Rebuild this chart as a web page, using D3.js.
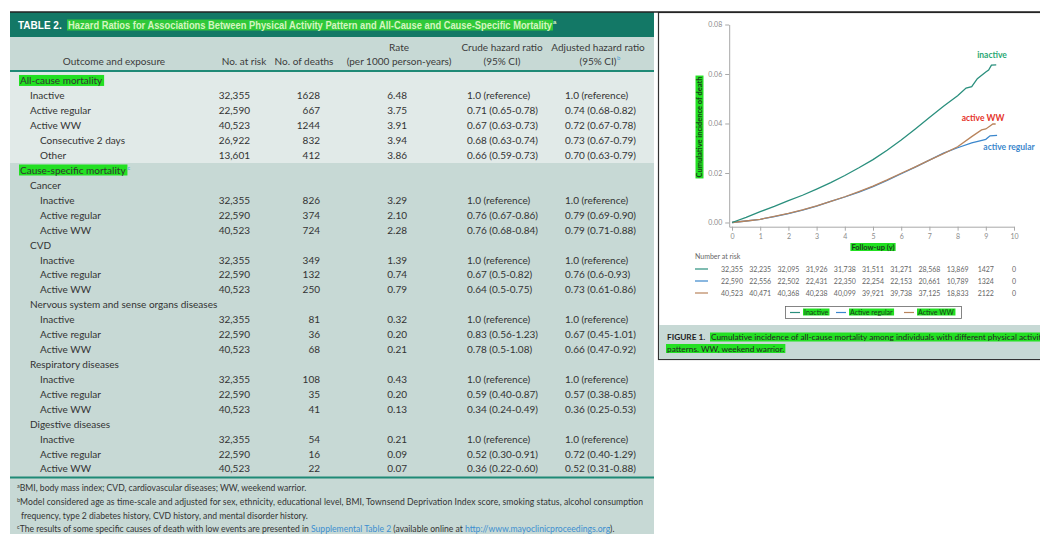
<!DOCTYPE html>
<html lang="en">
<head>
<meta charset="UTF-8">
<title>Physical Activity Pattern and Mortality</title>
<script src="https://cdnjs.cloudflare.com/ajax/libs/d3/7.9.0/d3.min.js"></script>
<style>
  body { margin: 0; background: #fff; }
  svg text { font-family: Lato, "Open Sans", sans-serif; }
</style>
</head>
<body>
<svg width="1040" height="534"></svg>
<script>
// ---- Table 2 data ----
let rowLabels = ["All-cause mortality", "Inactive", "Active regular", "Active WW", "Consecutive 2 days", "Other",
  "Cause-specific mortality", "Cancer", "Inactive", "Active regular", "Active WW",
  "CVD", "Inactive", "Active regular", "Active WW",
  "Nervous system and sense organs diseases", "Inactive", "Active regular", "Active WW",
  "Respiratory diseases", "Inactive", "Active regular", "Active WW",
  "Digestive diseases", "Inactive", "Active regular", "Active WW"];
let rowDepth = [0, 1, 1, 1, 2, 2, 0, 1, 2, 2, 2, 1, 2, 2, 2, 1, 2, 2, 2, 1, 2, 2, 2, 1, 2, 2, 2];
let atRisk = [null, "32,355", "22,590", "40,523", "26,922", "13,601", null, null, "32,355", "22,590", "40,523",
  null, "32,355", "22,590", "40,523", null, "32,355", "22,590", "40,523",
  null, "32,355", "22,590", "40,523", null, "32,355", "22,590", "40,523"];
let deaths = [null, 1628, 667, 1244, 832, 412, null, null, 826, 374, 724, null, 349, 132, 250,
  null, 81, 36, 68, null, 108, 35, 41, null, 54, 16, 22];
let rates = [null, "6.48", "3.75", "3.91", "3.94", "3.86", null, null, "3.29", "2.10", "2.28",
  null, "1.39", "0.74", "0.79", null, "0.32", "0.20", "0.21", null, "0.43", "0.20", "0.13",
  null, "0.21", "0.09", "0.07"];
let crudeHR = [null, "1.0 (reference)", "0.71 (0.65-0.78)", "0.67 (0.63-0.73)", "0.68 (0.63-0.74)", "0.66 (0.59-0.73)",
  null, null, "1.0 (reference)", "0.76 (0.67-0.86)", "0.76 (0.68-0.84)",
  null, "1.0 (reference)", "0.67 (0.5-0.82)", "0.64 (0.5-0.75)",
  null, "1.0 (reference)", "0.83 (0.56-1.23)", "0.78 (0.5-1.08)",
  null, "1.0 (reference)", "0.59 (0.40-0.87)", "0.34 (0.24-0.49)",
  null, "1.0 (reference)", "0.52 (0.30-0.91)", "0.36 (0.22-0.60)"];
let adjustedHR = [null, "1.0 (reference)", "0.74 (0.68-0.82)", "0.72 (0.67-0.78)", "0.73 (0.67-0.79)", "0.70 (0.63-0.79)",
  null, null, "1.0 (reference)", "0.79 (0.69-0.90)", "0.79 (0.71-0.88)",
  null, "1.0 (reference)", "0.76 (0.6-0.93)", "0.73 (0.61-0.86)",
  null, "1.0 (reference)", "0.67 (0.45-1.01)", "0.66 (0.47-0.92)",
  null, "1.0 (reference)", "0.57 (0.38-0.85)", "0.36 (0.25-0.53)",
  null, "1.0 (reference)", "0.72 (0.40-1.29)", "0.52 (0.31-0.88)"];

// ---- Figure 1 data (cumulative incidence) ----
let inactiveYears = [0, 0.5, 1, 1.5, 2, 2.5, 3, 3.5, 4, 4.5, 5, 5.5, 6, 6.5, 7, 7.5, 8, 8.3, 8.5, 8.7, 9.0, 9.1, 9.2, 9.37];
let inactiveInc = [0, 0.0021, 0.0044, 0.0065, 0.0088, 0.011, 0.0135, 0.0161, 0.019, 0.0221, 0.0254, 0.0292, 0.0333, 0.0378,
  0.0424, 0.0470, 0.0512, 0.0543, 0.0549, 0.0581, 0.0608, 0.0616, 0.0636, 0.0637];
let regularYears = [0, 0.5, 1, 1.5, 2, 2.5, 3, 3.5, 4, 4.5, 5, 5.5, 6, 6.5, 7, 7.5, 8, 8.5, 8.9, 9.0, 9.15, 9.4];
let regularInc = [0, 0.0006, 0.0013, 0.0024, 0.0036, 0.005, 0.0066, 0.0085, 0.0103, 0.0123, 0.0145, 0.017, 0.0197,
  0.0224, 0.0252, 0.028, 0.0302, 0.0322, 0.0333, 0.0336, 0.035, 0.0352];
let wwYears = [0, 0.5, 1, 1.5, 2, 2.5, 3, 3.5, 4, 4.5, 5, 5.5, 6, 6.5, 7, 7.5, 8, 8.5, 8.85, 9.0, 9.15, 9.25, 9.35];
let wwInc = [0, 0.0006, 0.0013, 0.0025, 0.0037, 0.0051, 0.0067, 0.0085, 0.0104, 0.0125, 0.0147, 0.0172, 0.0199,
  0.0225, 0.0252, 0.0278, 0.0306, 0.0347, 0.0374, 0.0378, 0.039, 0.0398, 0.0398];

let riskYears = [0, 1, 2, 3, 4, 5, 6, 7, 8, 9, 10];
let riskInactive = ["32,355", "32,235", "32,095", "31,926", "31,738", "31,511", "31,271", "28,568", "13,869", "1427", "0"];
let riskRegular = ["22,590", "22,556", "22,502", "22,431", "22,350", "22,254", "22,153", "20,661", "10,789", "1324", "0"];
let riskWW = ["40,523", "40,471", "40,368", "40,238", "40,099", "39,921", "39,738", "37,125", "18,833", "2122", "0"];

let seriesNames = ["Inactive", "Active regular", "Active WW"];
let seriesColors = ["#2a8f7d", "#3b87cc", "#b9845c"];

let svg = d3.select("svg");
let HL = "#22e022";

// puts a green marker box behind a text element
function highlight(textSel, color, w) {
    let b = textSel.node().getBBox();
    d3.select(textSel.node().parentNode).insert("rect", () => textSel.node())
        .attr("x", b.x - 1).attr("y", b.y + 0.5)
        .attr("width", (w || b.width) + 2).attr("height", b.height - 1)
        .attr("fill", color || HL);
}

// ================= TABLE =================
let T = svg.append("g");
T.append("rect").attr("x", 10).attr("y", 12).attr("width", 644).attr("height", 25).attr("fill", "#137866");
T.append("rect").attr("x", 10).attr("y", 37).attr("width", 644).attr("height", 34).attr("fill", "#c7d9d5");
T.append("rect").attr("x", 10).attr("y", 72).attr("width", 644).attr("height", 91).attr("fill", "#e1eae8");
T.append("rect").attr("x", 10).attr("y", 163).attr("width", 644).attr("height", 371).attr("fill", "#c7d9d5");
T.append("rect").attr("x", 10).attr("y", 70).attr("width", 644).attr("height", 2).attr("fill", "#1f8a76");
T.append("rect").attr("x", 10).attr("y", 476.5).attr("width", 644).attr("height", 2).attr("fill", "#1f8a76");

// title band
T.append("text").attr("x", 18).attr("y", 29).attr("fill", "#fff")
    .attr("font-size", 10).attr("font-weight", "bold")
    .style("font-family", "'Liberation Sans', Arial, sans-serif").text("TABLE 2.");
let title = T.append("text").attr("x", 68).attr("y", 29).attr("fill", "#d4f6c0")
    .attr("font-size", 10).attr("font-weight", "bold")
    .style("font-family", "'Liberation Sans', Arial, sans-serif");
title.append("tspan").attr("textLength", 484).attr("lengthAdjust", "spacingAndGlyphs")
    .text("Hazard Ratios for Associations Between Physical Activity Pattern and All-Cause and Cause-Specific Mortality");
title.append("tspan").attr("font-size", 6).attr("dy", -5).attr("dx", 1).text("a");
highlight(title, "#2fc83a", 484);

// header
let hdr = "#3b3b3b";
let header = [
    { x: 114, lines: ["", "Outcome and exposure"] },
    { x: 244, lines: ["", "No. at risk"] },
    { x: 304, lines: ["", "No. of deaths"] },
    { x: 399, lines: ["Rate", "(per 1000 person-years)"] },
    { x: 502, lines: ["Crude hazard ratio", "(95% CI)"] },
    { x: 598, lines: ["Adjusted hazard ratio", "(95% CI)"] }
];
header.forEach(h => {
    h.lines.forEach((l, i) => {
        if (!l) return;
        T.append("text").attr("x", h.x).attr("y", 50.5 + i * 14.5).attr("text-anchor", "middle")
            .attr("font-size", 10).attr("fill", hdr).text(l);
    });
});
T.append("text").attr("x", 617).attr("y", 60).attr("font-size", 6).attr("fill", "#4aa0d8").text("b");

// body rows
let rowBand = d3.scaleBand().domain(d3.range(rowLabels.length)).range([73.5, 476.4]);
let cy = i => rowBand(i) + rowBand.bandwidth() / 2;
let ink = "#333";

rowLabels.forEach((lab, i) => {
    let y = cy(i) + 3.5;
    let t = T.append("text").attr("x", 20 + rowDepth[i] * 10).attr("y", y)
        .attr("font-size", 10).attr("fill", ink).text(lab);
    if (rowDepth[i] === 0) {
        highlight(t);
        if (lab === "Cause-specific mortality") {
            let b = t.node().getBBox();
            T.append("text").attr("x", b.x + b.width + 1).attr("y", y - 4).attr("font-size", 5.5).attr("fill", "#4aa0d8").text("c");
        }
    }
    if (atRisk[i] != null) {
        T.append("text").attr("x", 250).attr("y", y).attr("text-anchor", "end").attr("font-size", 10).attr("fill", ink).text(atRisk[i]);
        T.append("text").attr("x", 320).attr("y", y).attr("text-anchor", "end").attr("font-size", 10).attr("fill", ink).text(deaths[i]);
        T.append("text").attr("x", 407).attr("y", y).attr("text-anchor", "end").attr("font-size", 10).attr("fill", ink).text(rates[i]);
        T.append("text").attr("x", 467).attr("y", y).attr("font-size", 10).attr("fill", ink).text(crudeHR[i]);
        T.append("text").attr("x", 565).attr("y", y).attr("font-size", 10).attr("fill", ink).text(adjustedHR[i]);
    }
});

// footnotes
let fn = T.append("g").attr("font-size", 8.6).attr("fill", "#333");
function sup(sel, ch) { sel.append("tspan").attr("font-size", 5.5).attr("dy", -3).text(ch); }
let f1 = fn.append("text").attr("x", 17).attr("y", 490.5);
sup(f1, "a");
f1.append("tspan").attr("dy", 3).text("BMI, body mass index; CVD, cardiovascular diseases; WW, weekend warrior.");
let f2 = fn.append("text").attr("x", 17).attr("y", 504.5);
sup(f2, "b");
f2.append("tspan").attr("dy", 3).attr("textLength", 623).attr("lengthAdjust", "spacing")
    .text("Model considered age as time-scale and adjusted for sex, ethnicity, educational level, BMI, Townsend Deprivation Index score, smoking status, alcohol consumption");
fn.append("text").attr("x", 21).attr("y", 518.5)
    .text("frequency, type 2 diabetes history, CVD history, and mental disorder history.");
let f3 = fn.append("text").attr("x", 17).attr("y", 532);
sup(f3, "c");
f3.append("tspan").attr("dy", 3).text("The results of some specific causes of death with low events are presented in ");
f3.append("tspan").attr("fill", "#3d8fd0").text("Supplemental Table 2");
f3.append("tspan").text(" (available online at ");
f3.append("tspan").attr("fill", "#3d8fd0").text("http://www.mayoclinicproceedings.org");
f3.append("tspan").text(").");

// ================= FIGURE =================
let F = svg.append("g");
F.append("rect").attr("x", 658.5).attr("y", 12.5).attr("width", 400).attr("height", 347)
    .attr("fill", "#fff").attr("stroke", "#333").attr("stroke-width", 1.2);
F.append("rect").attr("x", 659).attr("y", 325).attr("width", 381).attr("height", 34).attr("fill", "#c7d9d5");
svg.append("line").attr("x1", 10).attr("x2", 1040).attr("y1", 12).attr("y2", 12).attr("stroke", "#222").attr("stroke-width", 1.5);

let x = d3.scaleLinear().domain([-0.1, 10]).range([729.2, 1014]);
let y = d3.scaleLinear().domain([-0.0017, 0.08]).range([226.7, 24.5]);

let yAxis = F.append("g").attr("transform", "translate(729.2,0)")
    .call(d3.axisLeft(y).tickValues([0, 0.02, 0.04, 0.06, 0.08]).tickFormat(d3.format(".2f")).tickSize(4).tickSizeOuter(0));
let xAxis = F.append("g").attr("transform", "translate(0,226.7)")
    .call(d3.axisBottom(x).tickValues(d3.range(0, 11)).tickSize(4).tickSizeOuter(0).tickPadding(3));
[xAxis, yAxis].forEach(a => {
    a.selectAll("path, line").attr("stroke", "#a8a8a8");
    a.selectAll("text").attr("fill", "#8a8a8a").attr("font-size", 7).style("font-family", "Lato, sans-serif");
});

// y label
let yl = F.append("g").attr("transform", "translate(702,127) rotate(-90)");
let ylt = yl.append("text").attr("text-anchor", "middle").attr("font-size", 7.5).attr("font-weight", "bold")
    .attr("fill", "#1c3a1c").text("Cumulative incidence of death");
highlight(ylt);
let xlt = F.append("text").attr("x", 873).attr("y", 249.5).attr("text-anchor", "middle").attr("font-size", 7.5)
    .attr("font-weight", "bold").attr("fill", "#1c3a1c").text("Follow-up (y)");
highlight(xlt);

// curves
let line = d3.line().x(d => x(d[0])).y(d => y(d[1])).curve(d3.curveLinear);
let curves = [
    d3.zip(regularYears, regularInc),
    d3.zip(wwYears, wwInc),
    d3.zip(inactiveYears, inactiveInc)
];
let curveColors = [seriesColors[1], seriesColors[2], seriesColors[0]];
curves.forEach((c, i) => {
    F.append("path").attr("d", line(c)).attr("fill", "none").attr("stroke", curveColors[i]).attr("stroke-width", 1.3);
});

// curve labels
let endLabels = [
    { text: "inactive", color: "#2aa874", x: 992, y: 58 },
    { text: "active WW", color: "#e5332a", x: 983, y: 121 },
    { text: "active regular", color: "#3b87cc", x: 1009, y: 150 }
];
endLabels.forEach(l => {
    F.append("text").attr("x", l.x).attr("y", l.y).attr("text-anchor", "middle").attr("font-size", 8.5)
        .attr("font-weight", "bold").attr("fill", l.color).text(l.text);
});

// number at risk
F.append("text").attr("x", 695).attr("y", 259).attr("font-size", 7).attr("fill", "#666").text("Number at risk");
[riskInactive, riskRegular, riskWW].forEach((row, r) => {
    let ry = 269 + r * 12;
    F.append("line").attr("x1", 695).attr("x2", 708).attr("y1", ry).attr("y2", ry)
        .attr("stroke", seriesColors[r]).attr("stroke-width", 1.2);
    row.forEach((v, k) => {
        F.append("text").attr("x", x(riskYears[k])).attr("y", ry + 2.5).attr("text-anchor", "middle")
            .attr("font-size", 7).attr("fill", "#666").text(v);
    });
});

// legend
F.append("rect").attr("x", 785.5).attr("y", 306.5).attr("width", 176).attr("height", 12)
    .attr("fill", "#fff").attr("stroke", "#666").attr("stroke-width", 0.8);
let legX = [790, 836, 904];
seriesNames.forEach((n, i) => {
    F.append("line").attr("x1", legX[i]).attr("x2", legX[i] + 10).attr("y1", 312.5).attr("y2", 312.5)
        .attr("stroke", seriesColors[i]).attr("stroke-width", 1.2);
    let t = F.append("text").attr("x", legX[i] + 14).attr("y", 315).attr("font-size", 7).attr("fill", "#1c3a1c").text(n);
    highlight(t);
});

// caption (runs off the right edge, as in the original crop)
let cap = F.append("g").attr("font-size", 8.3).attr("fill", "#222");
cap.append("text").attr("x", 667).attr("y", 340).attr("font-weight", "bold").text("FIGURE 1.");
let c1 = cap.append("text").attr("x", 711).attr("y", 340)
    .text("Cumulative incidence of all-cause mortality among individuals with different physical activity");
highlight(c1);
let c2 = cap.append("text").attr("x", 667).attr("y", 351.5).text("patterns. WW, weekend warrior.");
highlight(c2);
</script>
</body>
</html>
